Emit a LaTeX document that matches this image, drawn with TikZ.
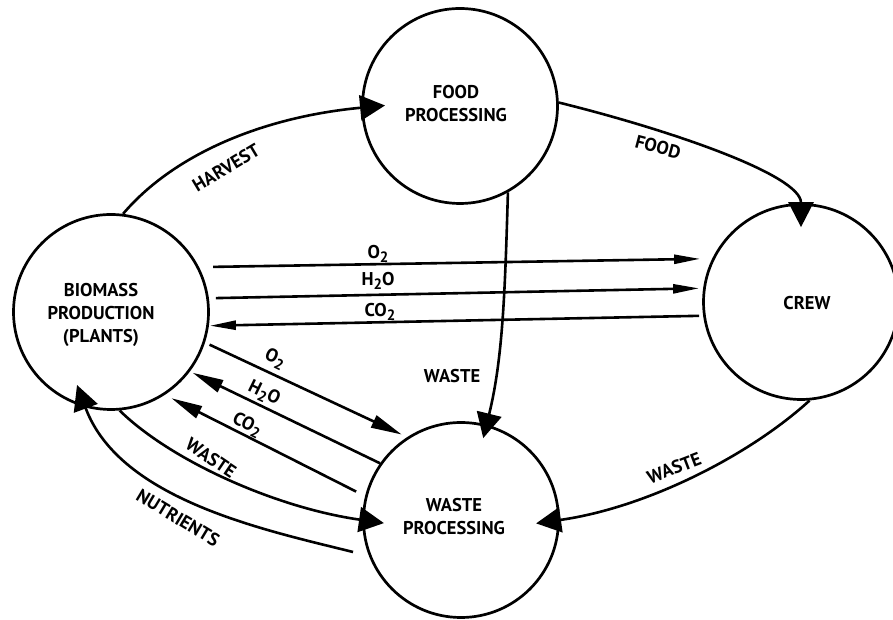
\documentclass[tikz,border=0pt]{standalone}
\usepackage{fontspec}
\setmainfont{PT Sans}
\usetikzlibrary{arrows.meta}
\newcommand{\lowtwo}{\raisebox{-0.45ex}{\fontsize{15}{15}\selectfont 2}}
\begin{document}
\begin{tikzpicture}[x=1pt,y=1pt,
  every node/.style={font=\bfseries\fontsize{18.5}{23}\selectfont},
  proc/.style={circle,draw,line width=2.7pt,minimum size=195pt,inner sep=0pt},
  lbl/.style={align=center,inner sep=0pt},
  flow/.style={line width=2.6pt},
  bighead/.style={-{Triangle[length=25pt,width=25pt]}},
  thinhead/.style={-{Triangle[length=26pt,width=9pt]}},
  diaghead/.style={-{Triangle[length=31pt,width=13pt]}}
]
\useasboundingbox (0,0) rectangle (893,620);
\fill[white] (0,0) rectangle (893,620);

% process circles
\node[proc] (bio) at (111,308) {};
\node[proc] (food) at (460,514) {};
\node[proc] (crew) at (801,318) {};
\node[proc] (waste) at (461,100) {};

\node[lbl] (bioT) at (101,305) {BIOMASS\\PRODUCTION\\(PLANTS)};
\node[lbl] (foodT) at (456,516) {FOOD\\PROCESSING};
\node[lbl] (crewT) at (807,317) {CREW};
\node[lbl] (wasteT) at (454,103) {WASTE\\PROCESSING};

% curved flows
\draw[flow,bighead,shorten >=-24pt] (bio.83) .. controls (174,466) and (263,503) .. (food.181);
\draw[flow,bighead,shorten >=-24pt] (food.2) .. controls (670,490) and (801,445) .. (crew.90);
\draw[flow,bighead,shorten >=-14pt] (food.-61) .. controls (505,330) and (503,262) .. (waste.75);
\draw[flow,bighead,shorten >=-24pt] (crew.-85) .. controls (750,165) and (647.5,112.5) .. (waste.0);
\draw[flow,bighead,shorten >=-22pt] (bio.-85) .. controls (170,160) and (274.5,112.5) .. (waste.180);
\coordinate (nutS) at (353,68);
\draw[flow,bighead,shorten >=-24pt] (nutS) .. controls (265.7,89.8) and (120,119.8) .. (bio.-105);

% horizontal gas flows
\draw[flow,thinhead,shorten <=14pt,shorten >=12pt] (bio.27) -- (crew.154);
\draw[flow,thinhead,shorten <=7pt,shorten >=4pt] (bio.8) -- (crew.172);
\draw[flow,thinhead,shorten <=4pt,shorten >=1pt] (crew.188) -- (bio.352);

% diagonal gas flows
\draw[flow,diaghead,shorten <=5pt,shorten >=6pt] (bio.-18) -- (waste.123);
\draw[flow,diaghead,shorten <=0pt,shorten >=3pt] (waste.145) -- (bio.-37);
\draw[flow,diaghead,shorten <=10pt,shorten >=7.5pt] (waste.166) -- (bio.-57);

% labels
\node[lbl,rotate=31] (lHarvest) at (226,452) {HARVEST};
\node[lbl,rotate=-15] (lFood) at (658,473) {FOOD};
\node[lbl] (lWasteA) at (452,244) {WASTE};
\node[lbl,rotate=21] (lWasteB) at (674,152) {WASTE};
\node[lbl,rotate=-34] (lWasteC) at (211,162) {WASTE};
\node[lbl,rotate=-31] (lNutr) at (178,102) {NUTRIENTS};
\node[lbl] (lO2h) at (378,366) {O\lowtwo};
\node[lbl] (lH2Oh) at (378,339) {H\lowtwo O};
\node[lbl] (lCO2h) at (380,308) {CO\lowtwo};
\node[lbl,rotate=-26] (lO2d) at (275,261) {O\lowtwo};
\node[lbl,rotate=-26] (lH2Od) at (264,226) {H\lowtwo O};
\node[lbl,rotate=-27] (lCO2d) at (247,195) {CO\lowtwo};
\end{tikzpicture}
\end{document}
